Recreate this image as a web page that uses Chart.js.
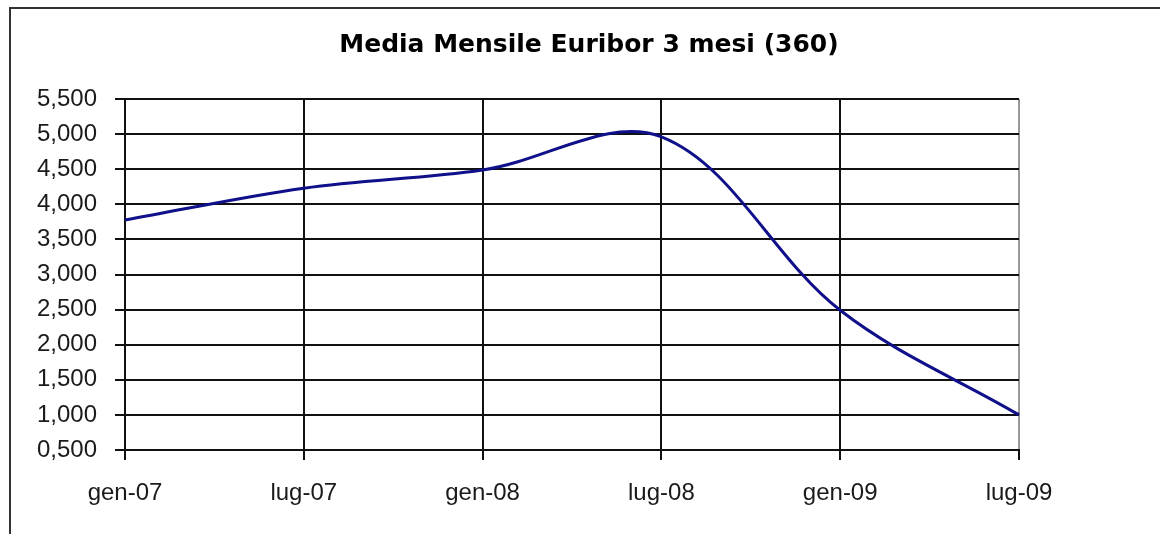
<!DOCTYPE html>
<html>
<head>
<meta charset="utf-8">
<script src="https://cdn.jsdelivr.net/npm/chart.js@4"></script>
<style>
    html, body { margin: 0; padding: 0; background: #fff; overflow: hidden; }
    #frame {
        position: absolute; left: 9px; top: 7px;
        width: 1300px; height: 700px;
        border: 2px solid #333;
    }
    #wrap { position: absolute; left: 0; top: 0; width: 1160px; height: 534px; }
</style>
</head>
<body>
<div id="frame"></div>
<div id="wrap"><canvas id="chart-euribor" width="1160" height="534"></canvas></div>
<script>
// Media mensile Euribor 3 mesi (360)
const MESI = ["gen-07", "lug-07", "gen-08", "lug-08", "gen-09", "lug-09"];
const VALORI = [3.776, 4.23, 4.49, 4.96, 2.49, 1.0];
const Y_MIN = 0.5;
const Y_MAX = 5.5;
const Y_STEP = 0.5;

const ctx = document.getElementById("chart-euribor").getContext("2d");

new Chart(ctx, {
    type: "line",
    data: {
        labels: MESI,
        datasets: [{
            label: "Euribor 3 mesi",
            data: VALORI,
            borderColor: "#10108a",
            borderWidth: 3,
            pointRadius: 0,
            tension: 0.35,
            fill: false,
            yAxisID: "y",
        }],
    },
    options: {
        responsive: false,
        animation: false,
        layout: { padding: { left: 18, right: 0, top: 0, bottom: 0 } },
        plugins: {
            legend: { display: false },
            tooltip: { enabled: false },
            title: {
                display: true,
                text: "Media Mensile Euribor 3 mesi (360)",
                color: "#000",
                font: { family: "DejaVu Sans", size: 25, weight: "bold" },
                padding: { top: 30, bottom: 39 },
            },
        },
        scales: {
            x: {
                type: "category",
                offset: false,
                afterFit: (s) => { s.height = 84; },
                grid: {
                    color: (c) => (c.index === MESI.length - 1 ? "#999" : "#111"),
                    lineWidth: 2,
                    tickLength: 10,
                    tickColor: "#111",
                },
                border: { color: "#111", width: 2 },
                ticks: {
                    color: "#1a1a1a",
                    padding: 19,
                    maxRotation: 0,
                    font: { family: "Liberation Sans", size: 24 },
                },
            },
            y: {
                min: Y_MIN,
                max: Y_MAX,
                afterFit: (s) => { s.width = 107; },
                grid: {
                    color: "#111",
                    lineWidth: 2,
                    tickLength: 10,
                },
                border: { color: "#111", width: 2 },
                ticks: {
                    stepSize: Y_STEP,
                    color: "#1a1a1a",
                    padding: 18,
                    font: { family: "Liberation Sans", size: 24 },
                    callback: (v) => v.toFixed(3).replace(".", ","),
                },
            },
            // spazio vuoto a destra dell'area del grafico
            destra: {
                position: "right",
                min: Y_MIN,
                max: Y_MAX,
                afterFit: (s) => { s.width = 141; },
                grid: { display: false },
                border: { display: false },
                ticks: { display: false },
            },
        },
    },
});
</script>
</body>
</html>
